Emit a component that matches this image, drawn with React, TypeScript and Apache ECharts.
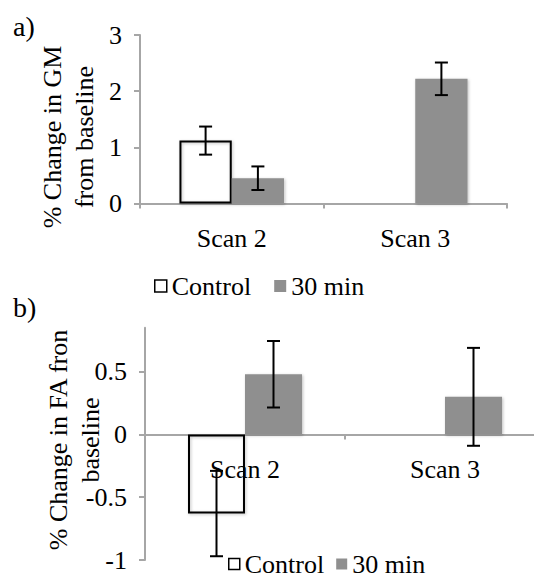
import React, { useEffect, useRef } from 'react';
import * as echarts from 'echarts';

const categories = ['Scan 2', 'Scan 3'];
const seriesNames = ['Control', '30 min'];

// Panel a) % change in GM
const gmControl: (number | null)[] = [1.12, null];
const gmControlErr: (number | null)[] = [0.25, null];
const gm30: (number | null)[] = [0.45, 2.22];
const gm30Err: (number | null)[] = [0.21, 0.29];
const gmTicks = [0, 1, 2, 3];

// Panel b) % change in FA
const faControl: (number | null)[] = [-0.63, null];
const faControlErr: (number | null)[] = [0.34, null];
const fa30: (number | null)[] = [0.48, 0.3];
const fa30Err: (number | null)[] = [0.265, 0.39];
const faTicks = [-1, -0.5, 0, 0.5];
const faMin = -1;
const faMax = 0.85;

const FONT = 'Liberation Serif';
const GAP = 0.43;
const GRAY = '#8f8f8f';
const AXIS = '#a6a6a6';

function errData(vals: (number | null)[], errs: (number | null)[], side: number) {
  const out: number[][] = [];
  vals.forEach((v, i) => {
    const e = errs[i];
    if (v != null && e != null) out.push([i, v - e, v + e, side]);
  });
  return out;
}

function renderErr(params: any, api: any) {
  const cat = api.value(0);
  const lo = api.value(1);
  const hi = api.value(2);
  const side = api.value(3);
  const band = api.size([1, 0])[0];
  const barW = (band * (1 - GAP)) / 2;
  const cx = api.coord([cat, 0])[0] + (side * barW) / 2;
  const yLo = api.coord([cat, lo])[1];
  const yHi = api.coord([cat, hi])[1];
  const cap = 6.5;
  const st = { stroke: '#000', lineWidth: 2 };
  return {
    type: 'group',
    children: [
      { type: 'line', shape: { x1: cx, y1: yHi, x2: cx, y2: yLo }, style: st },
      { type: 'line', shape: { x1: cx - cap, y1: yHi, x2: cx + cap, y2: yHi }, style: st },
      { type: 'line', shape: { x1: cx - cap, y1: yLo, x2: cx + cap, y2: yLo }, style: st },
    ],
  };
}

const controlStyle = {
  color: 'rgba(255,255,255,0)',
  borderColor: '#000',
  borderWidth: 2,
  shadowBlur: 3,
  shadowColor: 'rgba(0,0,0,0.25)',
  shadowOffsetX: 1,
  shadowOffsetY: 1,
};
const minStyle = {
  color: GRAY,
  shadowBlur: 3,
  shadowColor: 'rgba(0,0,0,0.25)',
  shadowOffsetX: 1,
  shadowOffsetY: 1,
};

const legendData = [
  { name: seriesNames[0], icon: 'rect', itemStyle: { color: '#fff', borderColor: '#000', borderWidth: 1.5 } },
  { name: seriesNames[1], icon: 'rect', itemStyle: { color: GRAY, borderWidth: 0 } },
];

export default function App() {
  const ref = useRef<HTMLDivElement>(null);
  useEffect(() => {
    document.body.style.margin = '0';
    if (!ref.current) return;
    const chart = echarts.init(ref.current, null, { renderer: 'svg' });
    const textStyle = { fontFamily: FONT, fontSize: 26, color: '#000' };
    const bTop = 327.8;
    const bHeight = 232.2;
    const zeroOffset = -bHeight * (0 - faMin) / (faMax - faMin);
    const xAxisBase = {
      type: 'category',
      data: categories,
      axisLine: { onZero: false, lineStyle: { color: AXIS, width: 2 } },
      axisTick: { show: true, length: 5, lineStyle: { color: AXIS, width: 2 } },
      axisLabel: { ...textStyle, margin: 22, hideOverlap: false },
      splitLine: { show: false },
    };
    const yAxisBase = {
      type: 'value',
      axisLine: { show: true, lineStyle: { color: AXIS, width: 2 } },
      axisTick: { show: true, length: 6, lineStyle: { color: AXIS, width: 2 } },
      splitLine: { show: false },
    };
    chart.setOption({
      animation: false,
      backgroundColor: '#fff',
      textStyle: { fontFamily: FONT },
      grid: [
        { left: 140, top: 35, width: 367, height: 168.5, containLabel: false, outerBoundsMode: 'none' },
        { left: 145, top: bTop, width: 400, height: bHeight, containLabel: false, outerBoundsMode: 'none' },
      ],
      xAxis: [
        { ...xAxisBase, gridIndex: 0 },
        { ...xAxisBase, gridIndex: 1, position: 'bottom', offset: zeroOffset },
      ],
      yAxis: [
        {
          ...yAxisBase,
          gridIndex: 0,
          min: 0,
          max: 3,
          interval: 1,
          axisLabel: { ...textStyle, margin: 18, customValues: gmTicks },
        },
        {
          ...yAxisBase,
          gridIndex: 1,
          min: faMin,
          max: faMax,
          interval: 0.5,
          axisTick: { ...yAxisBase.axisTick, customValues: faTicks },
          axisLabel: { ...textStyle, margin: 18, customValues: faTicks },
        },
      ],
      legend: [
        {
          left: 154,
          top: 273,
          padding: 0,
          itemWidth: 12,
          itemHeight: 12,
          itemGap: 23,
          textStyle,
          data: legendData,
          selectedMode: false,
        },
        {
          left: 228,
          top: 551,
          padding: 0,
          itemWidth: 11,
          itemHeight: 11,
          itemGap: 12,
          textStyle,
          data: legendData,
          selectedMode: false,
        },
      ],
      series: [
        {
          name: seriesNames[0], type: 'bar', xAxisIndex: 0, yAxisIndex: 0,
          data: gmControl, barGap: '0%', barCategoryGap: '43%', itemStyle: controlStyle,
        },
        {
          name: seriesNames[1], type: 'bar', xAxisIndex: 0, yAxisIndex: 0,
          data: gm30, barGap: '0%', barCategoryGap: '43%', itemStyle: minStyle,
        },
        {
          name: seriesNames[0], type: 'bar', xAxisIndex: 1, yAxisIndex: 1,
          data: faControl, barGap: '0%', barCategoryGap: '43%', itemStyle: controlStyle,
        },
        {
          name: seriesNames[1], type: 'bar', xAxisIndex: 1, yAxisIndex: 1,
          data: fa30, barGap: '0%', barCategoryGap: '43%', itemStyle: minStyle,
        },
        {
          name: 'errA', type: 'custom', coordinateSystem: 'cartesian2d', xAxisIndex: 0, yAxisIndex: 0,
          renderItem: renderErr, z: 5,
          data: [...errData(gmControl, gmControlErr, -1), ...errData(gm30, gm30Err, 1)],
          encode: { x: 0, y: [1, 2] },
        },
        {
          name: 'errB', type: 'custom', coordinateSystem: 'cartesian2d', xAxisIndex: 1, yAxisIndex: 1,
          renderItem: renderErr, z: 5,
          data: [...errData(faControl, faControlErr, -1), ...errData(fa30, fa30Err, 1)],
          encode: { x: 0, y: [1, 2] },
        },
      ],
      graphic: [
        { type: 'text', left: 13, top: 12, style: { text: 'a)', fontFamily: FONT, fontSize: 28, fill: '#000' } },
        { type: 'text', left: 13, top: 293, style: { text: 'b)', fontFamily: FONT, fontSize: 28, fill: '#000' } },
        {
          type: 'text', x: 68, y: 137, rotation: Math.PI / 2,
          style: {
            text: '% Change in GM\nfrom baseline', fontFamily: FONT, fontSize: 26, fill: '#000',
            align: 'center', verticalAlign: 'middle', lineHeight: 32,
          },
        },
        {
          type: 'text', x: 74, y: 440, rotation: Math.PI / 2,
          style: {
            text: '% Change in FA fron\nbaseline', fontFamily: FONT, fontSize: 26, fill: '#000',
            align: 'center', verticalAlign: 'middle', lineHeight: 32,
          },
        },
      ],
    });
    return () => chart.dispose();
  }, []);
  return <div ref={ref} style={{ width: 534, height: 579 }} />;
}
